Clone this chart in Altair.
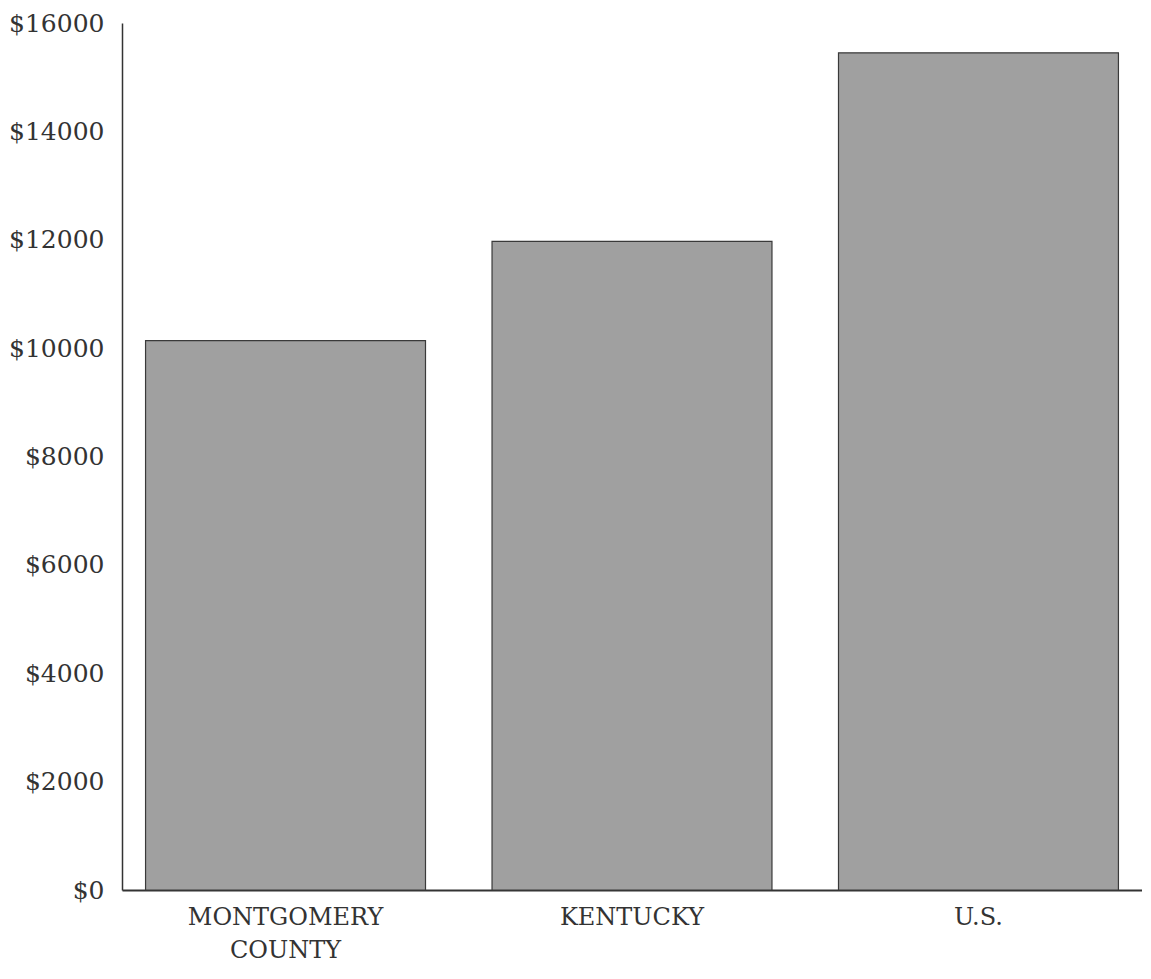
import altair as alt
import pandas as pd

categories = ["MONTGOMERY COUNTY", "KENTUCKY", "U.S."]
values = [10140, 11970, 15450]

df = pd.DataFrame({"region": categories, "income": values})

FONT = "DejaVu Serif"

bars = alt.Chart(df).mark_bar(
    fill="#a0a0a0", stroke="#3a3a3a", strokeWidth=1.2
).encode(
    x=alt.X("region:N", sort=categories, title=None,
            scale=alt.Scale(paddingInner=0.192, paddingOuter=0.068),
            axis=alt.Axis(labelAngle=0, ticks=False, labelPadding=15, labelLimit=0,
                          labelFont=FONT, labelFontSize=24, labelColor="#333",
                          labelLineHeight=33, domainColor="#333", domainWidth=2,
                          labelExpr="datum.value == 'MONTGOMERY COUNTY' ? ['MONTGOMERY', 'COUNTY'] : datum.label")),
    y=alt.Y("income:Q", title=None,
            scale=alt.Scale(domain=[0, 16000], nice=False),
            axis=alt.Axis(values=list(range(0, 16001, 2000)), ticks=False, grid=False,
                          labelPadding=18, labelFont=FONT, labelFontSize=25, labelColor="#333",
                          domainColor="#333", domainWidth=1.5,
                          labelExpr="'$' + datum.value"))
)

chart = bars.properties(width=1020, height=867, padding={"left": 0, "top": 3, "right": 0, "bottom": 0}).configure_view(stroke=None)

chart.save("out.html", embed_options={"renderer": "svg", "actions": False})
